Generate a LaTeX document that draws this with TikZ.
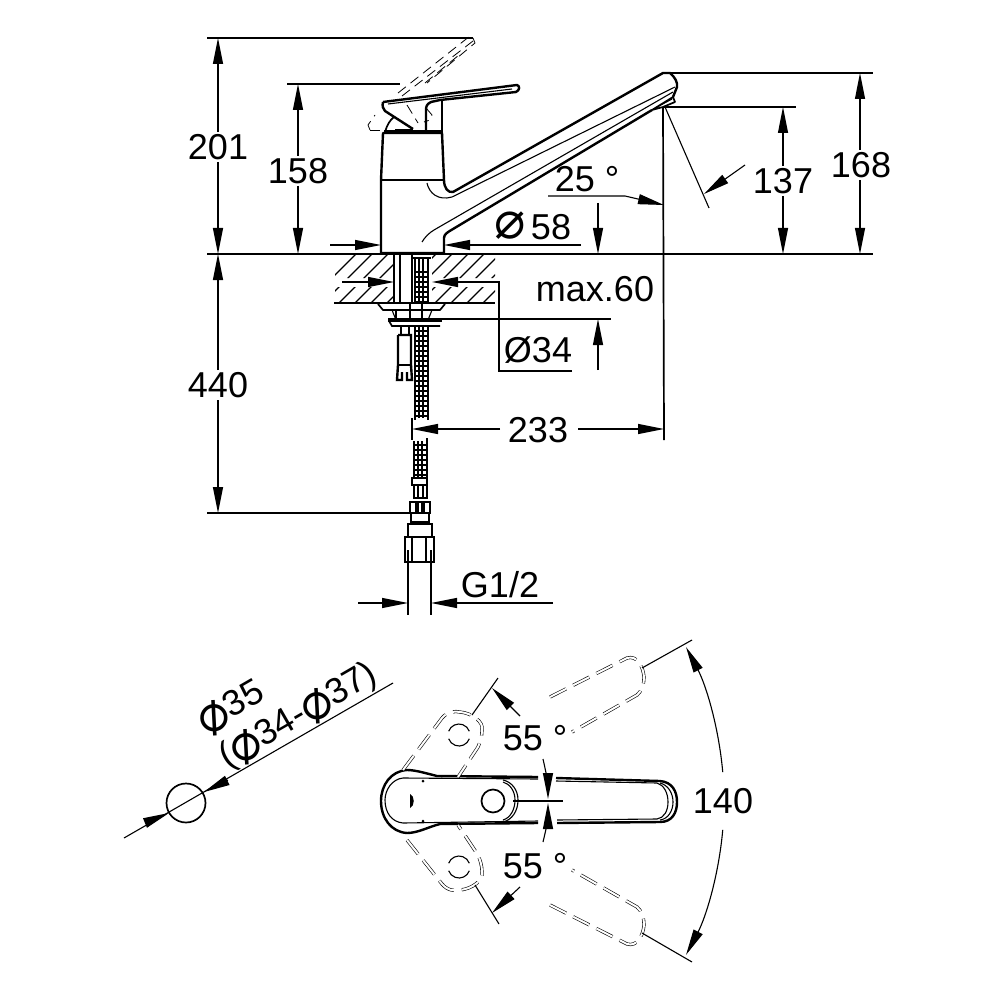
\documentclass[tikz,border=0pt]{standalone}
\usepackage{fontspec}
\usepackage{graphicx}
\setmainfont{Liberation Sans}
\newfontfamily\symfont{DejaVu Sans}
\usetikzlibrary{arrows.meta}
\tikzset{
  thinline/.style={line width=0.55pt},
  midline/.style={line width=0.85pt},
  thickline/.style={line width=1.2pt},
  meshline/.style={line width=0.65pt},
  dimline/.style={line width=0.55pt,-{Triangle[length=13pt,width=5pt]}},
  dimtext/.style={font=\fontsize{18}{20}\selectfont,inner sep=0pt},
  dashthin/.style={line width=0.4pt,dash pattern=on 5pt off 3pt},
  dashhandle/.style={line width=0.3pt,double,double distance=1pt,dash pattern=on 9pt off 4pt},
}
\newcommand{\dimphi}{\makebox[0.82em]{\raisebox{-0.12em}{\rotatebox[origin=c]{18}{\symfont\fontsize{26}{26}\selectfont ⌀}}}}
\begin{document}
\begin{tikzpicture}[x=0.5pt,y=-0.5pt]
       \useasboundingbox (0,0) rectangle (1000,1000);

       % extension lines
       \coordinate (E1L) at (207,38);
       \coordinate (E1R) at (473,38);
       \coordinate (E2L) at (287,84);
       \coordinate (E2R) at (400,84);
       \coordinate (E0L) at (207,254);
       \coordinate (E0R) at (873,254);
       \coordinate (E3L) at (207,513);
       \coordinate (E3R) at (410,513);
       \coordinate (E4L) at (668,73);
       \coordinate (E4R) at (873,73);
       \coordinate (E5L) at (663,107);
       \coordinate (E5R) at (796,107);
       \coordinate (E6B) at (664,440);
       \coordinate (E7L) at (440,319);
       \coordinate (E7R) at (611,319);

       \draw[thinline] (E1L) -- (E1R);
       \draw[thinline] (E2L) -- (E2R);
       \draw[thinline] (E0L) -- (E0R);
       \draw[thinline] (E3L) -- (E3R);
       \draw[thinline] (E4L) -- (E4R);
       \draw[thinline] (E5L) -- (E5R);
       \draw[midline] (E5L) -- (E6B);
       \draw[thinline] (E7L) -- (E7R);
       \draw[thinline] (408,562) -- (408,615);
       \draw[thinline] (431,562) -- (431,615);

       % vertical dimensions
       \node[dimtext] (L201) at (218,147) {201};
       \node[dimtext] (L158) at (298,171) {158};
       \node[dimtext] (L440) at (218,385) {440};
       \node[dimtext] (L168) at (861,165) {168};
       \node[dimtext] (L137) at (783,181) {137};
       \draw[dimline] (218,132) -- (218,38);
       \draw[dimline] (218,162) -- (218,254);
       \draw[dimline] (298,156) -- (298,84);
       \draw[dimline] (298,186) -- (298,254);
       \draw[dimline] (218,370) -- (218,254);
       \draw[dimline] (218,400) -- (218,513);
       \draw[dimline] (860,150) -- (860,73);
       \draw[dimline] (860,180) -- (860,254);
       \draw[dimline] (783,166) -- (783,107);
       \draw[dimline] (783,196) -- (783,254);
       \draw[dimline] (598,203) -- (598,254);
       \draw[dimline] (598,370) -- (598,319);

       % horizontal dimensions
       \node[dimtext] (L25) at (587,179) {25 °};
       \node[dimtext] (L58) at (551,227) {58};
       \node[inner sep=0pt,font=\symfont\fontsize{26}{26}\selectfont] (Dia58) at (510,226) {⌀};
       \node[dimtext] (L60) at (595,289) {max.60};
       \node[dimtext] (L34) at (538,350) {Ø34};
       \node[dimtext] (L233) at (538,430) {233};
       \node[dimtext] (LG) at (500,585) {G1/2};
       \draw[dimline] (548,196) -- (625,196) -- (664,205);
       \draw[dimline] (330,245) -- (381,245);
       \draw[dimline] (581,245) -- (444,245);
       \draw[dimline] (342,282) -- (394,282);
       \draw[dimline] (572,371) -- (499,371) -- (499,282) -- (432,282);
       \draw[dimline] (500,429) -- (412,429);
       \draw[dimline] (578,429) -- (664,429);
       \draw[dimline] (358,603) -- (408,603);
       \draw[dimline] (553,603) -- (431,603);
       \draw[thinline] (412,418) -- (412,440);
       \draw[thinline] (665,107) -- (709,208);
       \draw[dimline] (745,165) -- (704,194);

       % worktop
       \begin{scope}
         \clip (335,255) rectangle (393,278) (335,287) rectangle (393,302)
               (432,255) rectangle (495,278) (432,287) rectangle (495,302);
         \foreach \hx in {300,316,...,540}
           \draw[thinline] (\hx,310) -- ++(60,-60);
       \end{scope}
       \draw[midline] (334,303) -- (495,303);

       % spout and body
       \draw[thickline,line join=round] (381,253) -- (381,180) -- (383,133) -- (442,133) -- (444,180)
           .. controls (444,188) and (448,193) .. (453,192) -- (663,73) -- (670,73)
           .. controls (675,77) and (678,83) .. (677,87) -- (673,97);
       \draw[thickline,line join=round] (381,253) -- (444,253) -- (444,238)
           .. controls (444,234) and (448,232) .. (453,229) -- (652,110);
       \draw[thickline] (381,180) -- (444,180);
       \draw[thinline] (427,183) .. controls (429,193) and (438,201) .. (452,197) -- (675,87);
       \draw[thinline] (422,242) .. controls (425,237) and (429,233) .. (434,230) -- (673,92);
       \draw[midline,line join=round] (652,110) -- (673,97) -- (675,102) -- (663,107) -- cycle;
       \draw[thinline] (657,107) -- (672,99);

       % lever
       \draw[thickline,line join=round] (383,102) -- (517,85) .. controls (520,86) and (520,90) .. (516,92)
           -- (440,100) -- (431,102) .. controls (427,104) and (426,106) .. (426,110) -- (426,132);
       \draw[thickline,line join=round] (383,102) .. controls (382,106) and (383,109) .. (385,111) -- (413,129);
       \draw[thinline] (388,104) -- (512,89);
       \draw[midline] (442,100) -- (442,133);
       \draw[midline] (385,132) .. controls (387,125) and (390,120) .. (394,117);
       \draw[thinline] (395,130) -- (413,130);
       \draw[line width=1.2pt] (384,131) -- (441,131);

       % raised lever
       \draw[dashthin] (370,130) -- (368,125) -- (375,115);
       \draw[dashthin] (370,130) -- (394,130);
       \draw[dashthin] (398,93) -- (470,36);
       \draw[dashthin] (402,96) -- (473,41);
       \draw[dashthin] (425,83) -- (459,55);
       \draw[dashthin] (473,38) -- (475,43) -- (427,83);
       \draw[dashthin] (407,105) -- (418,123);
       \draw[dashthin] (426,108) -- (432,115) -- (430,120) -- (424,122);

       % shank and hose
       \draw[midline] (394,255) -- (394,303);
       \draw[midline] (412,255) -- (412,303);
       \draw[thinline] (400,255) -- (400,303);
       \foreach \hx in {419,423}
         \draw[meshline] (\hx,258) -- (\hx,303);
       \draw[midline] (415,258) -- (415,303);
       \draw[midline] (428,258) -- (428,303);
       \draw[midline] (413,258) -- (431,258);
       \draw[midline] (415,272) rectangle (428,277);
       \foreach \hy in {282,287,...,302}
         \draw[meshline] (415,\hy) -- (428,\hy);

       % nut under the worktop
       \draw[midline] (378,304) -- (383,310) -- (440,310) -- (445,304);
       \draw[thinline] (392,310) -- (396,320);
       \draw[thinline] (432,310) -- (428,320);
       \draw[thinline] (396,310) -- (396,320);
       \draw[thinline] (422,304) -- (422,320);
       \draw[thinline] (410,304) -- (410,320);
       \draw[line width=1.8pt] (388,320) -- (442,320);
       \draw[midline] (389,321) -- (392,326) -- (440,326);

       % feed pipe
       \draw[midline] (401,327) -- (401,335);
       \draw[midline] (409,327) -- (409,335);
       \draw[thickline] (398,335) -- (411,335) -- (411,365) -- (412,380) -- (407,380) -- (407,372);
       \draw[thickline] (398,335) -- (398,365) -- (397,380) -- (402,380) -- (402,372);
       \draw[thinline] (398,365) -- (411,365);

       % mesh of the hose
       \foreach \hx in {419,423}
         \draw[meshline] (\hx,326) -- (\hx,418);
       \foreach \hy in {331,336,...,418}
         \draw[meshline] (415,\hy) -- (428,\hy);
       \foreach \hx in {415,428}
         \draw[midline] (\hx,326) -- (\hx,420);
       \foreach \hx in {418,422}
         \draw[meshline] (\hx,441) -- (\hx,478);
       \foreach \hy in {445,450,...,478}
         \draw[meshline] (414,\hy) -- (427,\hy);
       \draw[midline] (414,441) -- (414,478);
       \draw[midline] (427,438) -- (427,478);

       % end fitting
       \draw[midline] (412,478) rectangle (427,485);
       \draw[midline] (414,485) -- (414,498) (418,485) -- (418,498) (423,485) -- (423,498) (427,485) -- (427,498);
       \draw[thickline] (413,498) -- (428,498);
       \draw[thickline] (410,502) rectangle (430,513);
       \draw[line width=2pt] (417,502) -- (417,513) (423,502) -- (423,513);
       \draw[midline] (411,513) rectangle (429,522);
       \draw[thickline] (408,537) -- (408,524) -- (432,524) -- (432,537);
       \draw[thickline] (405,537) rectangle (434,562);
       \draw[thickline] (412,537) -- (412,562) (426,537) -- (426,562);
       \draw[thinline] (408,550) -- (408,562) (431,550) -- (431,562);

       % lever from above
       \draw[thickline,line join=round] (538,777) -- (437,776) .. controls (425,773) and (415,770) .. (407,770)
           .. controls (391,771) and (381,785) .. (381,801) .. controls (381,818) and (391,832) .. (407,833)
           .. controls (418,833) and (428,827) .. (440,824) -- (538,823);
       \draw[thickline] (556,778) -- (660,781) .. controls (672,782) and (677,791) .. (677,802)
           .. controls (677,813) and (672,822) .. (660,822) -- (557,823);
       \draw[thinline] (503,780) .. controls (512,782) and (518,790) .. (518,800) .. controls (518,811) and (512,820) .. (503,822);
       \draw[thinline] (503,782) .. controls (510,784) and (515,791) .. (515,800) .. controls (515,810) and (510,818) .. (503,820);
       \draw[thinline] (538,779) -- (403,778) .. controls (392,779) and (385,790) .. (385,800)
           .. controls (385,813) and (392,822) .. (403,823) -- (538,821);
       \draw[thinline] (556,781) -- (657,783) .. controls (664,785) and (668,793) .. (668,802)
           .. controls (668,811) and (664,818) .. (657,819) -- (557,820);
       \draw[thinline] (660,783) .. controls (668,785) and (673,793) .. (673,802)
           .. controls (673,811) and (668,819) .. (660,820);
       \draw[midline] (493,801) circle (11.5);
       \fill (410,794) .. controls (415,796) and (415,806) .. (410,808) -- cycle;
       \fill (423,781) circle (1.5);
       \fill (423,821) circle (1.5);
       \draw[thinline] (513,801) -- (563,801);

       % dashed positions
       \draw[dashhandle] (550,697) -- (627,658) .. controls (637,655) and (643,666) .. (644,677)
           .. controls (644,684) and (642,691) .. (637,695) -- (572,732);
       \draw[dashhandle] (550,905) -- (627,944) .. controls (637,947) and (643,936) .. (644,925)
           .. controls (644,918) and (642,911) .. (637,907) -- (572,870);
       \draw[dashhandle] (403,770) -- (442,718) .. controls (448,711) and (455,711) .. (460,712)
           .. controls (472,713) and (484,722) .. (482,730) .. controls (482,737) and (480,742) .. (478,747) -- (458,777);
       \draw[dashhandle] (407,840) -- (442,884) .. controls (448,891) and (455,891) .. (460,890)
           .. controls (472,889) and (484,880) .. (482,872) .. controls (482,865) and (480,860) .. (478,855) -- (458,825);
       \coordinate (HoleU) at (459,735);
       \coordinate (HoleD) at (459,867);
       \draw[thinline] (HoleU) ++(-160:11) arc[start angle=-160,end angle=-20,radius=11];
       \draw[thinline] (HoleU) ++(20:11) arc[start angle=20,end angle=160,radius=11];
       \draw[thinline] (HoleD) ++(-160:11) arc[start angle=-160,end angle=-20,radius=11];
       \draw[thinline] (HoleD) ++(20:11) arc[start angle=20,end angle=160,radius=11];

       % angles of the lever
       \coordinate (A55) at (393,801);
       \node[dimtext] (L55a) at (535,738) {55 °};
       \node[dimtext] (L55b) at (535,866) {55 °};
       \node[dimtext] (L140) at (723,801) {140};
       \draw[thinline] (472,715) -- (498,678);
       \draw[thinline] (475,885) -- (499,924);
       \draw[dimline] (520,716) -- (492,688);
       \draw[dimline] (520,887) -- (492,913);
       \draw[dimline] (543,759) .. controls (546,772) and (548,785) .. (548,799);
       \draw[dimline] (543,842) .. controls (546,830) and (548,817) .. (548,803);
       \draw[thinline] (642,668) -- (692,640);
       \draw[thinline] (642,933) -- (692,962);
       \draw[dimline] (A55) ++(-5:331) arc[start angle=-5,end angle=-27.7,radius=331];
       \draw[dimline] (A55) ++(5:331) arc[start angle=5,end angle=27.7,radius=331];

       % hole in the worktop
       \coordinate (HL) at (124,838);
       \coordinate (HR) at (393,683);
       \coordinate (HC) at (186,803);
       \draw[thinline] (HL) -- (HR);
       \draw[midline] (HC) circle (19.5);
       \draw[dimline] (145,823) -- (169,813);
       \draw[dimline] (228,780) -- (204,792);
       \node[dimtext,rotate=30] (L35) at (232,708) {\dimphi35};
       \node[dimtext,rotate=30] (L34r) at (299,717) {(\dimphi34-\dimphi37)};
\end{tikzpicture}
\end{document}
